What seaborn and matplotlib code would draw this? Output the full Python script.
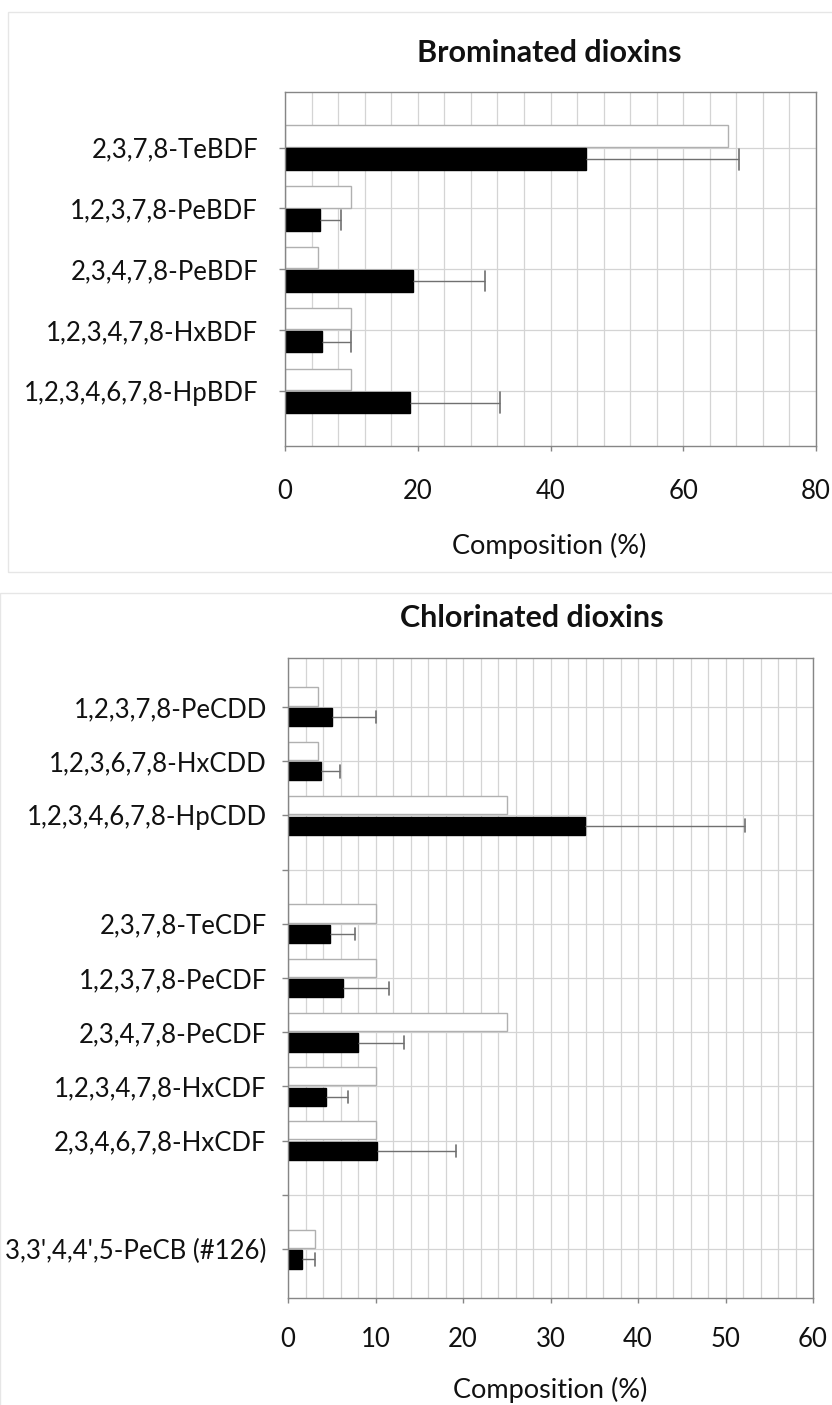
import matplotlib
matplotlib.use("Agg")
import numpy as np
import pandas as pd
import matplotlib.pyplot as plt
import seaborn as sns
from matplotlib.ticker import MultipleLocator
from matplotlib.patches import Rectangle

# ---- brominated congeners (percent composition) ----
brom_congeners = [
    "2,3,7,8-TeBDF",
    "1,2,3,7,8-PeBDF",
    "2,3,4,7,8-PeBDF",
    "1,2,3,4,7,8-HxBDF",
    "1,2,3,4,6,7,8-HpBDF",
]
brom_open = [66.7, 10.0, 5.0, 10.0, 10.0]
brom_filled = [45.4, 5.2, 19.3, 5.5, 18.8]
brom_filled_err = [23.0, 3.2, 10.9, 4.5, 13.6]

# ---- chlorinated congeners; blank entries separate the groups ----
chlor_congeners = [
    "1,2,3,7,8-PeCDD",
    "1,2,3,6,7,8-HxCDD",
    "1,2,3,4,6,7,8-HpCDD",
    " ",
    "2,3,7,8-TeCDF",
    "1,2,3,7,8-PeCDF",
    "2,3,4,7,8-PeCDF",
    "1,2,3,4,7,8-HxCDF",
    "2,3,4,6,7,8-HxCDF",
    "  ",
    "3,3',4,4',5-PeCB (#126)",
]
chlor_open = [3.4, 3.4, 25.0, None, 10.0, 10.0, 25.0, 10.0, 10.0, None, 3.1]
chlor_filled = [5.0, 3.75, 33.9, None, 4.8, 6.3, 7.95, 4.3, 10.2, None, 1.65]
chlor_filled_err = [5.1, 2.15, 18.3, 0, 2.8, 5.2, 5.35, 2.5, 9.0, 0, 1.4]

series_order = ["open", "filled"]

sns.set_style("white")
plt.rcParams["font.family"] = ["Lato", "DejaVu Sans"]

GRID = "#d4d4d4"
AXIS = "#868686"
ERR = "#707070"
TEXT = "#111111"


def long_frame(congeners, open_vals, filled_vals):
    rows = []
    for name, o, f in zip(congeners, open_vals, filled_vals):
        if o is not None:
            rows.append((name, "open", o))
        if f is not None:
            rows.append((name, "filled", f))
    return pd.DataFrame(rows, columns=["congener", "series", "value"])


def draw_panel(ax, congeners, open_vals, filled_vals, errs, xmax, major, minor,
               gap, cap_half, ylim, xpad, ypad):
    df = long_frame(congeners, open_vals, filled_vals)
    ax.set_axisbelow(True)
    sns.barplot(data=df, y="congener", x="value", hue="series",
                order=congeners, hue_order=series_order,
                palette={"open": "white", "filled": "black"},
                orient="h", width=0.76, gap=gap, errorbar=None,
                legend=False, linewidth=1.0, ax=ax)
    for bar in ax.containers[0]:
        bar.set_edgecolor("#b0b0b0")
    for bar in ax.containers[1]:
        bar.set_edgecolor("black")
        v = bar.get_width()
        yc = bar.get_y() + bar.get_height() / 2
        e = errs[int(round(yc))]
        if e > 0:
            ax.plot([v, v + e], [yc, yc], color=ERR, lw=1.0, zorder=3,
                    solid_capstyle="butt")
            ax.plot([v + e, v + e], [yc - cap_half, yc + cap_half],
                    color=ERR, lw=1.2, zorder=3)

    ax.set_xlim(0, xmax)
    ax.set_ylim(*ylim)
    ax.xaxis.set_major_locator(MultipleLocator(major))
    ax.xaxis.set_minor_locator(MultipleLocator(minor))
    ax.grid(axis="x", which="both", color=GRID, lw=0.9)
    ax.grid(axis="y", which="major", color=GRID, lw=0.9)
    ax.tick_params(axis="x", which="major", direction="out", length=3.6,
                   width=1, color=AXIS, pad=xpad, labelsize=18.5,
                   labelcolor=TEXT, bottom=True)
    ax.tick_params(axis="x", which="minor", length=0)
    ax.tick_params(axis="y", which="major", direction="out", length=4.3,
                   width=1, color=AXIS, pad=ypad, labelsize=18.5,
                   labelcolor=TEXT, left=True)
    for s in ax.spines.values():
        s.set_visible(True)
        s.set_color(AXIS)
        s.set_linewidth(1.0)
    ax.set_xlabel("")
    ax.set_ylabel("")


W, H = 832, 1405
fig = plt.figure(figsize=(W / 100, H / 100), dpi=100)
fig.patch.set_facecolor("white")


def fig_rect(x0, y0, x1, y1):
    return [x0 / W, 1 - y1 / H, (x1 - x0) / W, (y1 - y0) / H]


# faint chart-area frames
fig.add_artist(Rectangle((8 / W, 1 - 572 / H), (W + 10 - 8) / W, (572 - 12) / H,
                         transform=fig.transFigure, fill=False,
                         edgecolor="#e6e6e6", lw=1.0))
fig.add_artist(Rectangle((0, -0.01), 1.01, 1 - 593 / H + 0.01,
                         transform=fig.transFigure, fill=False,
                         edgecolor="#e6e6e6", lw=1.0))

ax1 = fig.add_axes(fig_rect(285, 92, 816, 446))
draw_panel(ax1, brom_congeners, brom_open, brom_filled, brom_filled_err,
           xmax=80, major=20, minor=4, gap=0.07, cap_half=0.17,
           ylim=(4.905, -0.915), xpad=20, ypad=15)

ax2 = fig.add_axes(fig_rect(288, 658, 813, 1298))
draw_panel(ax2, chlor_congeners, chlor_open, chlor_filled, chlor_filled_err,
           xmax=60, major=10, minor=2, gap=0.12, cap_half=0.115,
           ylim=(10.9, -0.9), xpad=17.5, ypad=11)

fig.text(549 / W, 1 - 53 / H, "Brominated dioxins", ha="center", va="center",
         fontsize=22, fontweight="bold", color=TEXT)
fig.text(549 / W, 1 - 546 / H, "Composition (%)", ha="center", va="center",
         fontsize=19.5, color=TEXT)
fig.text(532 / W, 1 - 618 / H, "Chlorinated dioxins", ha="center", va="center",
         fontsize=22, fontweight="bold", color=TEXT)
fig.text(550 / W, 1 - 1390 / H, "Composition (%)", ha="center", va="center",
         fontsize=19.5, color=TEXT)

fig.savefig("out.png", dpi=100, facecolor="white")
